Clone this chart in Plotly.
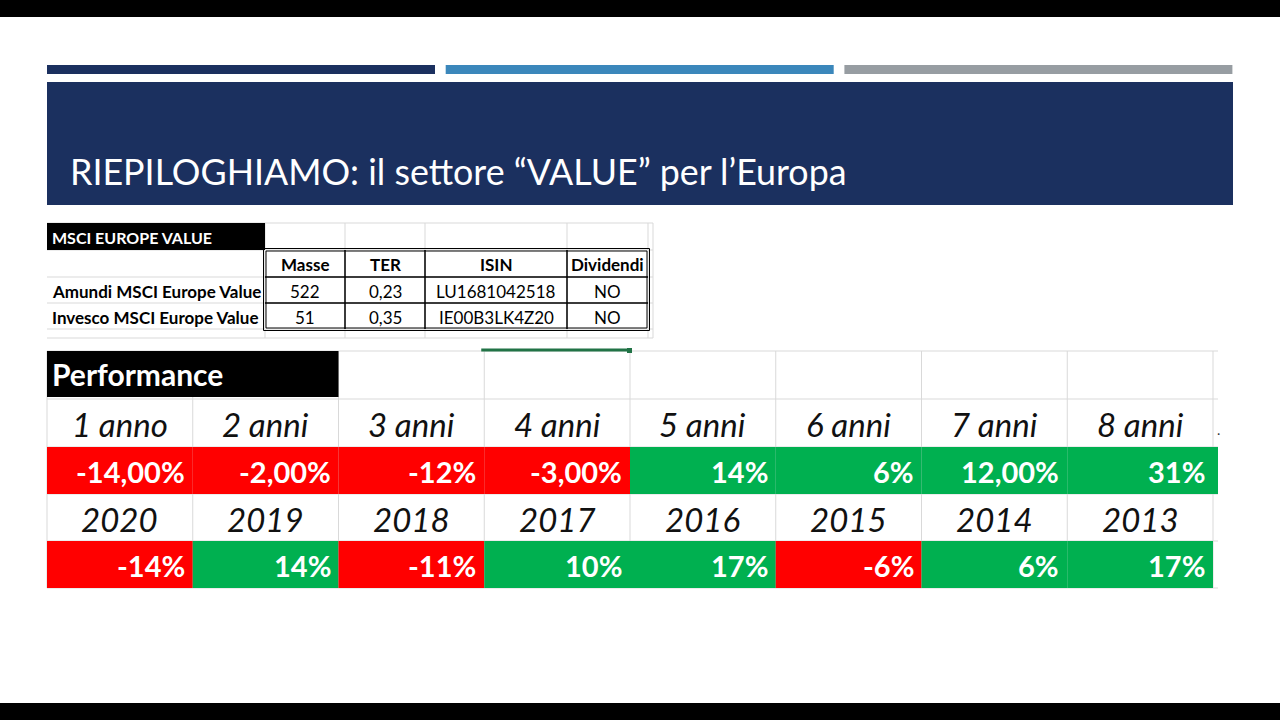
import plotly.graph_objects as go

# ---------------- data ----------------
title_text = "RIEPILOGHIAMO: il settore “VALUE” per l’Europa"
small_table_title = "MSCI EUROPE VALUE"
small_headers = ["Masse", "TER", "ISIN", "Dividendi"]
fund_names = ["Amundi MSCI Europe Value", "Invesco MSCI Europe Value"]
masse = [522, 51]
ter = ["0,23", "0,35"]
isin = ["LU1681042518", "IE00B3LK4Z20"]
dividendi = ["NO", "NO"]

perf_title = "Performance"
period_labels = ["1 anno", "2 anni", "3 anni", "4 anni", "5 anni", "6 anni", "7 anni", "8 anni"]
period_returns = [-14.00, -2.00, -12, -3.00, 14, 6, 12.00, 31]
period_decimals = [2, 2, 0, 2, 0, 0, 2, 0]
years = ["2020", "2019", "2018", "2017", "2016", "2015", "2014", "2013"]
year_returns = [-14, 14, -11, 10, 17, -6, 6, 17]
year_decimals = [0, 0, 0, 0, 0, 0, 0, 0]

# ---------------- style ----------------
NAVY = "#1B305F"
BLUE = "#3B87BB"
GRAY = "#979DA2"
RED = "#FF0000"
GREEN = "#00B050"
GRID = "#D9D9D9"
FONT = "Lato"

shapes = []
ann = []


def rect(x0, y0, x1, y1, fill, line=None, lw=0):
    shapes.append(dict(type="rect", xref="x", yref="y", x0=x0, y0=y0, x1=x1, y1=y1,
                       fillcolor=fill, line=dict(color=line or fill, width=lw), layer="below"))


def line(x0, y0, x1, y1, color, w=1, layer="below"):
    shapes.append(dict(type="line", xref="x", yref="y", x0=x0, y0=y0, x1=x1, y1=y1,
                       line=dict(color=color, width=w), layer=layer))


def text(x, y, s, size, color="black", bold=False, italic=False, xanchor="center", family=FONT):
    if bold:
        s = "<b>" + s + "</b>"
    if italic:
        s = "<i>" + s + "</i>"
    ann.append(dict(x=x, y=y, xref="x", yref="y", text=s, showarrow=False, xanchor=xanchor,
                    yanchor="middle", font=dict(size=size, color=color, family=family)))


def fmt(v, d):
    return (f"{v:.{d}f}").replace(".", ",") + "%"


# letterbox bars
rect(0, 0, 1280, 17, "black")
rect(0, 703, 1280, 720, "black")

# decorative top bars
bar_colors = [NAVY, BLUE, GRAY]
for i, c in enumerate(bar_colors):
    x0 = 47 + i * 398.7
    rect(x0, 65, x0 + 388, 74, c)

# header box
rect(47, 82, 1233, 205, NAVY)
text(68, 171, title_text, 35.8, "white", xanchor="left")

# ---------------- small table ----------------
scol = [47, 265, 345, 425, 567, 648]
srow = [223, 250, 277, 303, 329]
STS = 17
# light gridlines
for y in srow + [338]:
    line(47, y, 653, y, GRID)
for x in scol[1:] + [653]:
    line(x, 223, x, 338, GRID)
rect(47, 223, 265, 250, "black")
text(50, 237, small_table_title, 16, "white", bold=True, xanchor="left")
# inner black borders
for y in srow[2:-1]:
    line(scol[1], y, scol[-1], y, "black", 1.5, "above")
for x in scol[2:-1]:
    line(x, srow[1], x, srow[-1], "black", 1.5, "above")
shapes.append(dict(type="rect", x0=scol[1] - 1.5, y0=srow[1] - 1.5, x1=scol[-1] + 1.5, y1=srow[-1] + 1.5,
                   line=dict(color="black", width=1), layer="above"))
shapes.append(dict(type="rect", x0=scol[1] + 1, y0=srow[1] + 1, x1=scol[-1] - 1, y1=srow[-1] - 1,
                   line=dict(color="black", width=1), layer="above"))
for j, h in enumerate(small_headers):
    text((scol[j + 1] + scol[j + 2]) / 2, (srow[1] + srow[2]) / 2 + 1, h, STS, bold=True)
for i, name in enumerate(fund_names):
    yc = (srow[i + 2] + srow[i + 3]) / 2 + 1
    text(50, yc, name, STS, bold=True, xanchor="left")
    vals = [str(masse[i]), ter[i], isin[i], dividendi[i]]
    for j, v in enumerate(vals):
        text((scol[j + 1] + scol[j + 2]) / 2, yc, v, STS)

# ---------------- performance table ----------------
px0 = 47
cw = 145.75
prow = [351, 399, 447, 494, 541, 588]
pright = px0 + 8 * cw
for y in prow:
    line(px0, y, pright + 5, y, GRID)
for k in range(9):
    line(px0 + k * cw, prow[0], px0 + k * cw, prow[-1], GRID)
rect(px0, prow[0], px0 + 2 * cw, prow[1] - 2, "black")
text(50, (prow[0] + prow[1]) / 2 - 1, perf_title, 30, "white", bold=True, xanchor="left")
# excel selection border
line(px0 + 3 * cw - 3, prow[0] - 1, px0 + 4 * cw - 2, prow[0] - 1, "#217346", 3, "above")
rect(px0 + 4 * cw - 3, prow[0] - 3, px0 + 4 * cw + 2, prow[0] + 2, "#217346")

for k in range(8):
    xl = px0 + k * cw
    xr = xl + cw
    text((xl + xr) / 2, (prow[1] + prow[2]) / 2 + 1, period_labels[k], 33, "#111111", italic=True)
    v = period_returns[k]
    rect(xl, prow[2], xr + (5 if k == 7 else 0), prow[3], RED if v < 0 else GREEN)
    text(xr - 6, (prow[2] + prow[3]) / 2 + 1, fmt(v, period_decimals[k]), 29, "white", bold=True, xanchor="right")
    text((xl + xr) / 2, (prow[3] + prow[4]) / 2 + 1, years[k], 33, "#111111", italic=True)
    w = year_returns[k]
    rect(xl, prow[4], xr, prow[5], RED if w < 0 else GREEN)
    text(xr - 6, (prow[4] + prow[5]) / 2 + 1, fmt(w, year_decimals[k]), 29, "white", bold=True, xanchor="right")
text(pright + 5, (prow[1] + prow[2]) / 2 + 6, ".", 14, "#333333")

fig = go.Figure()
fig.update_layout(
    width=1280, height=720, autosize=False,
    margin=dict(l=0, r=0, t=0, b=0),
    paper_bgcolor="white", plot_bgcolor="white",
    xaxis=dict(range=[0, 1280], visible=False, fixedrange=True),
    yaxis=dict(range=[720, 0], visible=False, fixedrange=True),
    shapes=shapes, annotations=ann, showlegend=False,
)
fig.write_html("out.html", config={"displayModeBar": False},
               post_script="document.body.style.margin='0';document.body.style.overflow='hidden';")
